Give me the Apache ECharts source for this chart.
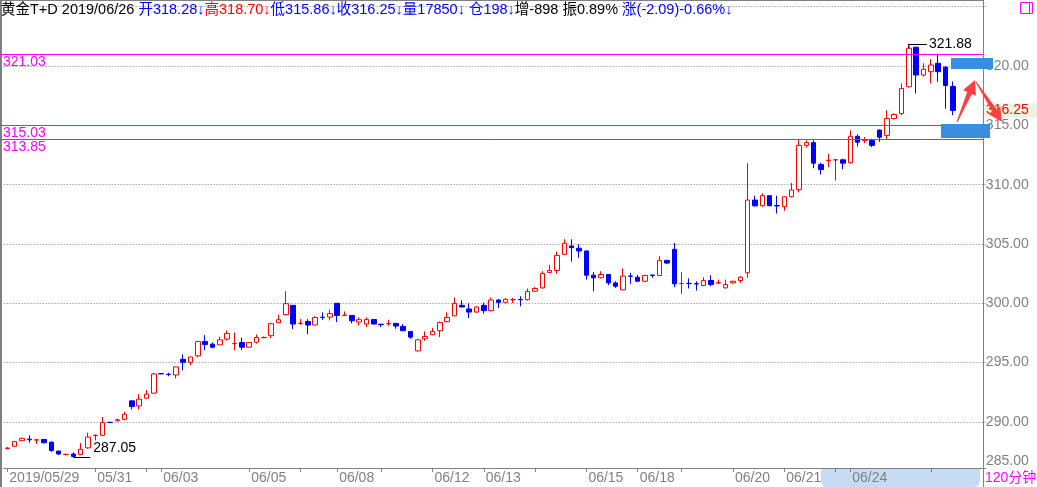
<!DOCTYPE html>
<html><head><meta charset="utf-8">
<script src="https://cdn.jsdelivr.net/npm/echarts@6/dist/echarts.min.js"></script>
<style>html,body{margin:0;padding:0;background:#fff}#c{width:1037px;height:487px}</style>
</head><body><div id="c"></div>
<script>
// ---- data ----
const openP  = [287.75,287.95,288.42,288.55,288.47,288.53,288.30,287.55,287.25,287.30,
287.25,287.82,288.85,288.87,289.97,290.10,290.22,291.78,291.35,292.00,
292.43,294.08,294.02,293.96,295.28,295.03,295.57,296.78,296.56,296.50,
296.99,296.60,296.70,296.30,296.72,297.10,297.27,298.36,299.04,299.83,
298.30,298.47,298.17,298.83,298.84,300.00,298.97,298.98,298.42,298.25,
298.64,298.24,298.27,298.31,298.05,297.63,295.99,297.01,297.35,297.69,
298.45,298.94,299.83,299.52,299.26,299.83,299.38,300.28,300.08,300.30,
300.32,300.31,301.02,301.30,302.60,302.77,304.13,304.83,304.64,304.41,
302.37,302.15,302.43,301.72,301.13,302.30,302.20,301.86,302.38,302.35,
303.62,304.55,301.66,301.68,301.65,301.50,301.92,301.70,301.30,301.72,
301.92,302.57,308.70,308.22,309.07,308.24,308.14,308.98,309.58,313.31,
313.54,311.69,312.02,312.08,312.09,311.84,314.07,313.72,313.73,314.60,
314.15,315.57,315.99,318.25,321.58,319.24,319.52,320.23,319.90,318.28];
const closeP = [287.80,288.35,288.62,288.50,288.50,288.25,287.60,287.30,287.27,287.10,
287.70,288.73,288.88,289.94,289.95,290.18,290.65,291.30,291.92,292.35,
294.04,294.05,294.00,294.64,295.03,295.48,296.78,296.53,296.30,296.92,
297.46,296.62,296.30,296.70,297.12,297.13,298.28,298.62,299.97,298.25,
298.32,298.17,298.81,298.80,299.13,298.98,299.00,298.53,298.62,298.64,
298.25,298.20,298.29,298.08,297.69,297.15,296.92,297.20,297.63,298.39,
298.81,299.99,299.69,299.26,299.69,299.38,300.28,300.08,300.34,300.32,
300.30,300.99,301.25,302.52,302.77,304.04,305.06,304.69,304.41,302.37,
302.15,302.43,301.72,301.44,302.29,302.28,301.86,302.35,302.35,303.62,
303.39,301.64,301.68,301.66,301.63,301.92,301.58,301.74,301.58,301.86,
302.20,308.70,308.22,309.07,308.22,308.20,308.98,309.55,313.31,313.54,
311.81,311.27,312.05,312.10,311.81,314.07,313.58,313.74,313.31,314.00,
315.57,315.91,318.11,321.50,319.24,319.72,320.08,319.52,318.35,316.25];
const lowP   = [287.70,287.90,288.38,288.25,288.15,288.20,287.46,287.22,287.18,287.05,
287.20,287.75,288.45,288.80,289.90,290.05,290.14,291.05,291.05,291.95,
292.37,294.03,293.85,293.67,294.35,294.80,295.45,296.05,296.22,296.45,
296.86,296.05,296.05,296.28,296.60,297.05,297.06,298.33,298.98,297.82,
298.19,297.40,298.15,298.60,298.56,298.42,298.95,298.31,298.14,298.00,
298.23,298.00,298.11,297.85,297.65,297.01,295.93,296.84,297.30,297.15,
298.40,298.90,299.67,298.76,299.20,299.13,299.32,299.60,300.00,300.03,
299.75,300.23,300.99,301.25,302.54,302.49,304.07,303.51,303.84,302.00,
301.02,302.10,301.53,301.30,301.10,301.64,301.80,301.80,302.15,302.30,
303.30,301.36,300.80,301.25,301.08,301.45,301.44,301.65,301.25,301.65,
301.72,302.15,308.14,308.14,308.20,307.57,307.80,308.92,309.36,313.11,
311.38,310.85,311.47,310.34,311.30,311.75,313.22,313.50,313.16,313.60,
313.80,315.50,315.85,318.19,317.69,319.10,318.53,318.67,316.40,315.86];
const highP  = [287.90,288.40,288.68,288.88,288.52,288.55,288.35,287.55,287.35,287.43,
288.22,289.10,288.95,290.42,290.02,290.30,290.85,291.80,292.35,292.70,
294.15,294.10,294.15,294.66,295.70,295.50,296.80,297.32,296.70,297.18,
297.71,297.54,297.10,296.72,297.37,297.20,298.36,299.04,301.02,299.85,
298.67,298.67,298.90,299.24,299.47,300.02,299.32,299.00,298.81,298.81,
298.66,298.26,298.62,298.33,298.25,297.65,297.01,297.63,297.91,298.47,
299.24,300.49,300.25,300.00,299.75,300.06,300.49,300.37,300.45,300.45,
300.59,301.25,301.36,302.71,303.22,304.35,305.40,305.40,304.97,304.45,
302.63,302.71,302.45,301.86,302.94,302.57,302.40,302.40,302.40,303.98,
303.65,305.08,302.63,302.10,301.86,302.20,302.37,302.00,302.00,301.90,
302.29,311.81,309.07,309.27,309.10,309.07,309.00,310.14,313.87,313.73,
313.73,311.84,312.60,312.12,312.18,314.58,314.24,314.01,313.87,314.65,
316.27,316.00,318.53,321.88,321.62,320.23,320.57,321.02,320.00,318.70];
const categoryCount = 134;
const dateLabels = {0:'2019/05/29',12:'05/31',21:'06/03',33:'06/05',45:'06/08',58:'06/12',
  65:'06/13',79:'06/15',86:'06/18',99:'06/20',106:'06/21',115:'06/24'};
const tickIdx = [0,12,19,21,33,40,45,51,58,65,72,79,86,92,99,106,113,115,126];
const refLines = [321.03, 315.03, 313.85];
const maxMark = {idx: 123, value: 321.88};
const minMark = {idx: 9, value: 287.05};
const yMinLabel = '285.00';
const periodLabel = '120分钟';
const headerInfo = {name:'黄金T+D', date:'2019/06/26', vol:'17850', oi:'198', oiChg:'-898', amp:'0.89%', chg:'(-2.09)-0.66%'};

// ---- build ----
const categories = [];
for (let i = 0; i < categoryCount; i++) categories.push(dateLabels[i] || '');
const kData = openP.map((o, i) => [o, closeP[i], lowP[i], highP[i]]);
const last = kData.length - 1;

const FONT = "'Liberation Sans','Noto Sans CJK SC',sans-serif";
const chart = echarts.init(document.getElementById('c'), null, {renderer: 'canvas'});

const header = '{k|' + headerInfo.name + ' ' + headerInfo.date + ' }' +
  '{b|开' + openP[last].toFixed(2) + '↓}' +
  '{r|高' + highP[last].toFixed(2) + '↓}' +
  '{b|低' + lowP[last].toFixed(2) + '↓}' +
  '{b|收' + closeP[last].toFixed(2) + '↓}' +
  '{b|量' + headerInfo.vol + '↓ 仓' + headerInfo.oi + '↓}' +
  '{k|增' + headerInfo.oiChg + ' 振' + headerInfo.amp + ' }' +
  '{b|涨' + headerInfo.chg + '↓}';

const HF = 14.5;
const GRID_L = 3.64, BAND = 7.33;
chart.setOption({
  animation: false,
  backgroundColor: '#ffffff',
  title: {
    text: header, left: 1, top: 3, padding: 0,
    textStyle: {fontFamily: FONT, fontSize: HF, fontWeight: 'normal', rich: {
      k: {color: '#000000', fontFamily: FONT, fontSize: HF},
      b: {color: '#0000ff', fontFamily: FONT, fontSize: HF},
      r: {color: '#ff0000', fontFamily: FONT, fontSize: HF}
    }}
  },
  grid: {left: GRID_L, top: 0.6, width: BAND * categoryCount, height: 480.7, containLabel: false, outerBoundsMode: 'none', show: false},
  xAxis: {
    type: 'category', data: categories, boundaryGap: true, offset: -13.3, z: 3,
    axisLine: {show: true, lineStyle: {color: '#808080', width: 1}},
    axisTick: {show: true, alignWithLabel: true, length: 4, lineStyle: {color: '#808080'},
      interval: (i) => tickIdx.indexOf(i) >= 0},
    axisLabel: {show: true, interval: (i, v) => v !== '', align: 'left', margin: 3,
      color: '#808080', fontFamily: FONT, fontSize: 14, padding: [0, 0, 0, 2]},
    splitLine: {show: false}
  },
  yAxis: {
    type: 'value', position: 'right', min: 285, max: 325.51, interval: 5, offset: -3, scale: true,
    axisLine: {show: false},
    axisTick: {show: false},
    axisLabel: {show: true, margin: 3, color: '#808080', fontFamily: FONT, fontSize: 14,
      formatter: (v) => (v >= 290 && v <= 320) ? v.toFixed(2) : ''},
    splitLine: {show: true, showMinLine: false, showMaxLine: false, lineStyle: {color: '#808080', type: [1, 2], width: 1}}
  },
  series: [{
    type: 'candlestick', data: kData, barWidth: 5, z: 5,
    itemStyle: {color: '#ffffff', color0: '#0000ff', borderColor: '#ff0000', borderColor0: '#0000ff', borderWidth: 1}
  }]
});

// overlays placed through the chart's own scales
const py = (v) => chart.convertToPixel({yAxisIndex: 0}, v);
const pp = (i, v) => chart.convertToPixel({seriesIndex: 0}, [i, v]);
const RX = 983.5;
const g = [];
// borders
g.push({type: 'line', shape: {x1: 0, y1: 0.5, x2: RX, y2: 0.5}, style: {stroke: '#808080', lineWidth: 1}});
g.push({type: 'line', shape: {x1: 1, y1: 0, x2: 1, y2: 487}, style: {stroke: '#808080', lineWidth: 2}});
g.push({type: 'line', shape: {x1: RX, y1: 0, x2: RX, y2: 487}, style: {stroke: '#808080', lineWidth: 1}, z: 10});
// period highlight
g.push({type: 'rect', shape: {x: 821, y: 469, width: 159, height: 18, r: [0, 0, 6, 6]}, style: {fill: '#c6dcf4'}, z: 0});
g.push({type: 'text', x: 985, y: 478, style: {text: periodLabel, fill: '#ff00ff', font: '14px ' + FONT, textVerticalAlign: 'middle'}, z: 10});
g.push({type: 'text', x: 986, y: 461, style: {text: yMinLabel, fill: '#808080', font: '14px ' + FONT, textVerticalAlign: 'middle'}, z: 10});
// reference lines
refLines.forEach((v) => {
  const y = Math.round(py(v)) + 0.5;
  g.push({type: 'line', shape: {x1: 0, y1: y, x2: RX, y2: y}, style: {stroke: '#ff00ff', lineWidth: 1}, z: 8});
  g.push({type: 'text', x: 3, y: y + 1, style: {text: v.toFixed(2), fill: '#ff00ff', font: '14px ' + FONT, textVerticalAlign: 'top'}, z: 8});
});
// max / min markers
const pm = pp(maxMark.idx, maxMark.value);
const ym = Math.round(pm[1]) + 0.5;
g.push({type: 'polyline', shape: {points: [[pm[0], ym + 4], [pm[0], ym], [pm[0] + 18, ym]]}, style: {stroke: '#000', lineWidth: 1, fill: null}, z: 9});
g.push({type: 'text', x: pm[0] + 20, y: ym, style: {text: maxMark.value.toFixed(2), fill: '#000', font: '14px ' + FONT, textVerticalAlign: 'middle'}, z: 9});
const pn = pp(minMark.idx, minMark.value);
const yn = Math.round(pn[1]) + 0.5;
g.push({type: 'line', shape: {x1: pn[0], y1: yn, x2: pn[0] + 17, y2: yn}, style: {stroke: '#000', lineWidth: 1}, z: 9});
g.push({type: 'text', x: pn[0] + 20, y: yn - 2, style: {text: minMark.value.toFixed(2), fill: '#000', font: '14px ' + FONT, textVerticalAlign: 'bottom'}, z: 9});
// last price tag
const yl = py(closeP[last]);
g.push({type: 'rect', shape: {x: 984, y: yl - 7, width: 53, height: 14}, style: {fill: '#eaf4e4'}, z: 9});
g.push({type: 'text', x: 986, y: yl, style: {text: closeP[last].toFixed(2), fill: '#ff0000', font: '14px ' + FONT, textVerticalAlign: 'middle'}, z: 9});
// annotation boxes and arrows (drawn marks on the picture)
g.push({type: 'rect', shape: {x: 951, y: 58, width: 42, height: 11}, style: {fill: '#3a8ee0'}, z: 11});
g.push({type: 'rect', shape: {x: 941, y: 124, width: 49, height: 14}, style: {fill: '#3a8ee0'}, z: 11});
g.push({type: 'polygon', shape: {points: [[956.5,121.8],[967.2,91.9],[963.1,90.1],[975,80],[975.9,95.7],[971.8,93.9],[957.5,122.2]]}, style: {fill: '#ff4040'}, z: 12});
g.push({type: 'polygon', shape: {points: [[976.4,81.7],[996.5,108.9],[1000.3,106.5],[1002,122],[988.5,114.1],[992.3,111.7],[975.6,82.3]]}, style: {fill: '#ff4040'}, z: 12});
// small window box
g.push({type: 'rect', shape: {x: 1020.5, y: 2.5, width: 12, height: 11}, style: {fill: null, stroke: '#ff00ff', lineWidth: 1}, z: 10});
g.push({type: 'line', shape: {x1: 1029.5, y1: 2.5, x2: 1029.5, y2: 13.5}, style: {stroke: '#ff00ff', lineWidth: 1}, z: 10});

chart.setOption({graphic: {elements: g}});
</script></body></html>
